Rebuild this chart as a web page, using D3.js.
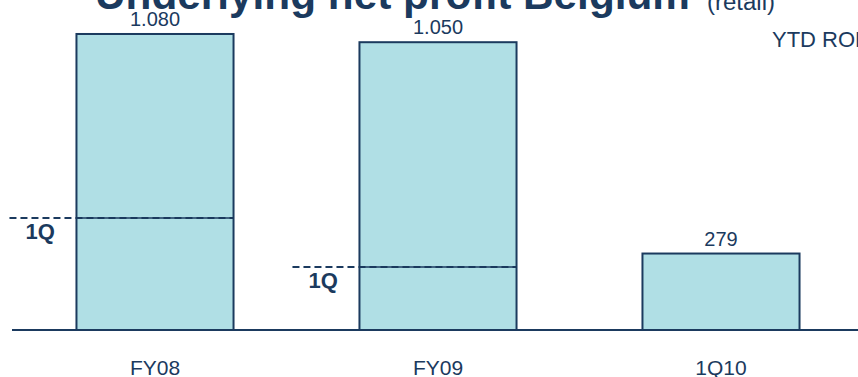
<!DOCTYPE html>
<html>
<head>
<meta charset="utf-8">
<script src="https://cdn.jsdelivr.net/npm/d3@7"></script>
<style>
    body { margin: 0; background: #fff; }
    svg { display: block; }
</style>
</head>
<body>
<div id="chart-container"></div>
<script>
// data
const categories = ["FY08", "FY09", "1Q10"];
const totals = [1080, 1050, 279];
const totalLabels = ["1.080", "1.050", "279"];
// first quarter part (only shown for the full years)
const firstQuarter = [409, 230, null];

const width = 858;
const height = 377;
const baseY = 330;
const navy = "#1b3a5e";

const svg = d3.select("#chart-container")
    .append("svg")
    .attr("width", width)
    .attr("height", height)
    .style("font-family", "'Liberation Sans', Arial, sans-serif");

const x = d3.scaleBand()
    .domain(categories)
    .range([13.5, 862.5])
    .paddingInner(0.445)
    .paddingOuter(0.2225);

const y = d3.scaleLinear()
    .domain([0, 1204])
    .range([baseY, 0]);

// title (cut at top like the slide)
svg.append("text")
    .attr("x", 95)
    .attr("y", 9)
    .attr("textLength", 595)
    .attr("lengthAdjust", "spacingAndGlyphs")
    .style("font-size", "42px")
    .style("font-weight", "bold")
    .attr("fill", navy)
    .text("Underlying net profit Belgium");

svg.append("text")
    .attr("x", 707)
    .attr("y", 10)
    .attr("textLength", 68)
    .attr("lengthAdjust", "spacingAndGlyphs")
    .style("font-size", "23px")
    .attr("fill", navy)
    .text("(retail)");

// bars
svg.selectAll(".bar")
    .data(totals)
    .enter()
    .append("rect")
    .attr("class", "bar")
    .attr("x", (d, i) => x(categories[i]))
    .attr("y", d => y(d))
    .attr("width", x.bandwidth())
    .attr("height", d => baseY - y(d))
    .attr("fill", "#b0dfe5")
    .attr("stroke", navy)
    .attr("stroke-width", 2);

// value labels
svg.selectAll(".value")
    .data(totals)
    .enter()
    .append("text")
    .attr("class", "value")
    .attr("x", (d, i) => x(categories[i]) + x.bandwidth() / 2)
    .attr("y", d => y(d) - 8)
    .attr("text-anchor", "middle")
    .attr("fill", navy)
    .style("font-size", "20px")
    .text((d, i) => totalLabels[i]);

// 1Q markers
const q = firstQuarter
    .map((v, i) => ({ v, cat: categories[i] }))
    .filter(d => d.v !== null);

q.forEach(d => {
    const left = x(d.cat);
    const yy = y(d.v);
    svg.append("line")
        .attr("x1", left - 67)
        .attr("x2", left + x.bandwidth())
        .attr("y1", yy)
        .attr("y2", yy)
        .attr("stroke", navy)
        .attr("stroke-width", 2)
        .attr("stroke-dasharray", "7,4");
    svg.append("line")
        .attr("x1", left)
        .attr("x2", left + x.bandwidth())
        .attr("y1", yy)
        .attr("y2", yy)
        .attr("stroke", navy)
        .attr("stroke-width", 1.5);
    svg.append("text")
        .attr("x", left - 51)
        .attr("y", yy + 21)
        .attr("fill", navy)
        .style("font-size", "22px")
        .style("font-weight", "bold")
        .text("1Q");
});

// baseline
svg.append("line")
    .attr("x1", 12)
    .attr("x2", width)
    .attr("y1", baseY)
    .attr("y2", baseY)
    .attr("stroke", navy)
    .attr("stroke-width", 2);

// category labels
svg.selectAll(".cat")
    .data(categories)
    .enter()
    .append("text")
    .attr("class", "cat")
    .attr("x", d => x(d) + x.bandwidth() / 2)
    .attr("y", 375)
    .attr("text-anchor", "middle")
    .attr("fill", navy)
    .style("font-size", "21px")
    .text(d => d);

svg.append("text")
    .attr("x", 772)
    .attr("y", 47)
    .attr("fill", navy)
    .style("font-size", "22px")
    .text("YTD ROE");
</script>
</body>
</html>
